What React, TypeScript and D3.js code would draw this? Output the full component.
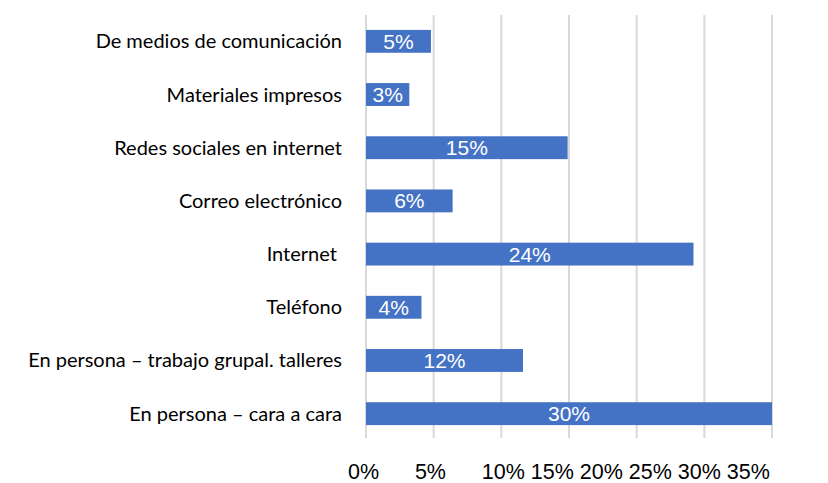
import * as d3 from "d3"
import { useRef, useEffect } from "react"

// categories top to bottom, as in the picture
const categories = [
  "De medios de comunicación",
  "Materiales impresos",
  "Redes sociales en internet",
  "Correo electrónico",
  "Internet ",
  "Teléfono",
  "En persona – trabajo grupal. talleres",
  "En persona – cara a cara",
]
// bar lengths (percent)
const values = [4.8, 3.2, 14.9, 6.4, 24.2, 4.1, 11.6, 30]
const valueLabels = ["5%", "3%", "15%", "6%", "24%", "4%", "12%", "30%"]
const gridTicks = [0, 5, 10, 15, 20, 25, 30]
const tickLabels = ["0%", "5%", "10%", "15%", "20%", "25%", "30%", "35%"]

export default function App() {
  const ref = useRef<SVGSVGElement>(null)

  useEffect(() => {
    const width = 828
    const height = 483
    const marginLeft = 366
    const marginRight = 56
    const marginTop = 15
    const plotBottom = 440

    const data = categories.map((c, i) => ({ name: c, value: values[i], label: valueLabels[i] }))

    const x = d3.scaleLinear().domain([0, 30]).range([marginLeft, width - marginRight])
    const y = d3.scaleBand().domain(categories).range([marginTop, plotBottom]).paddingInner(0.57).paddingOuter(0.28)

    const svg = d3.select(ref.current)
    svg.selectAll("*").remove()
    svg.attr("width", width).attr("height", height)

    // vertical gridlines
    svg.append("g")
      .selectAll("line")
      .data(gridTicks)
      .join("line")
      .attr("x1", (d) => x(d))
      .attr("x2", (d) => x(d))
      .attr("y1", marginTop)
      .attr("y2", 438)
      .attr("stroke", "#d9d9d9")
      .attr("stroke-width", 2)

    svg.append("g")
      .attr("fill", "#4472c4")
      .selectAll("rect")
      .data(data)
      .join("rect")
      .attr("x", x(0))
      .attr("y", (d) => y(d.name)!)
      .attr("width", (d) => x(d.value) - x(0))
      .attr("height", y.bandwidth())

    // data labels
    svg.append("g")
      .selectAll("text")
      .data(data)
      .join("text")
      .attr("x", (d) => (x(0) + x(d.value)) / 2)
      .attr("y", (d) => y(d.name)! + y.bandwidth() / 2)
      .attr("dy", "0.36em")
      .attr("text-anchor", "middle")
      .attr("fill", "#ffffff")
      .attr("font-family", "Liberation Sans, Arial, sans-serif")
      .attr("font-size", 21)
      .text((d) => d.label)

    // category labels
    svg.append("g")
      .selectAll("text")
      .data(data)
      .join("text")
      .attr("x", 342)
      .attr("y", (d) => y(d.name)! + y.bandwidth() / 2)
      .attr("dy", "0.35em")
      .attr("text-anchor", "end")
      .attr("fill", "#000000")
      .attr("font-family", "Lato, 'Open Sans', sans-serif")
      .attr("font-size", 20)
      .style("white-space", "pre")
      .text((d) => d.name)

    // bottom tick labels, written as one spaced line
    const tickLine = tickLabels.map((t, i) => (i < 2 ? t + "      " : t + " ")).join("").trimEnd()
    svg.append("text")
      .attr("x", 348)
      .attr("y", 479)
      .attr("fill", "#000000")
      .attr("font-family", "Liberation Sans, Arial, sans-serif")
      .attr("font-size", 21.5)
      .style("white-space", "pre")
      .text(tickLine)
  }, [])

  return (
    <div style={{ position: "absolute", left: 0, top: 0 }}>
      <svg ref={ref}></svg>
    </div>
  )
}
